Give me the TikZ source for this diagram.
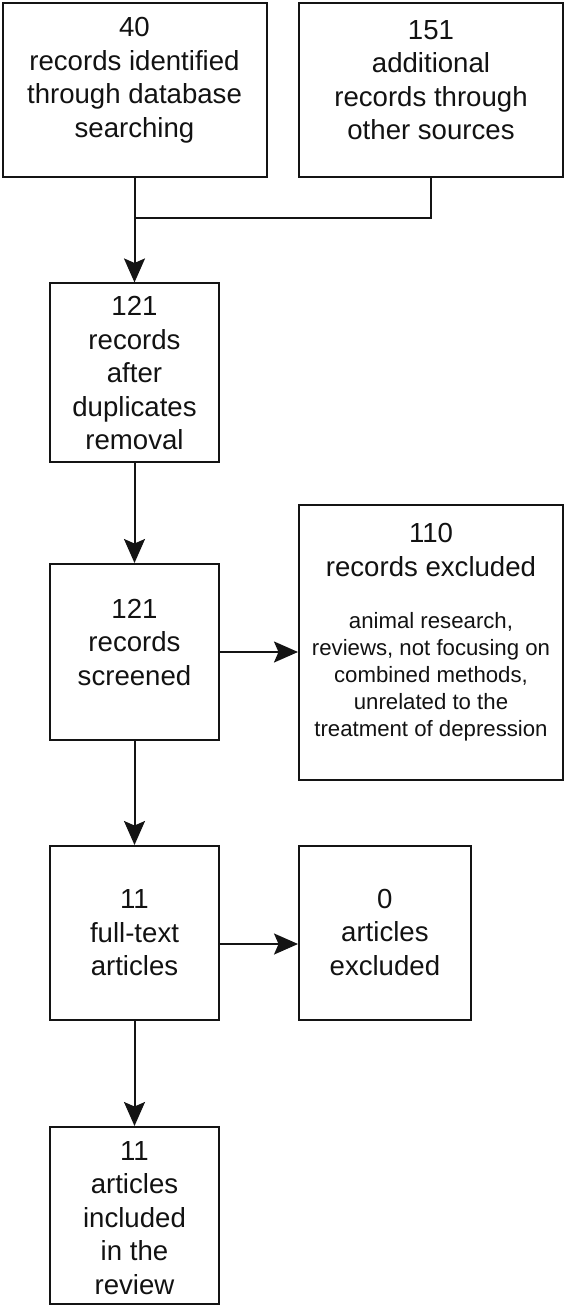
\documentclass[tikz,border=0pt]{standalone}
\usepackage{fontspec}
\setmainfont{Liberation Sans}
\usetikzlibrary{arrows.meta}
\begin{document}
\begin{tikzpicture}[x=1pt,y=-1pt,
  box/.style={draw=black!92, line width=2pt, rectangle, inner sep=0pt},
  big/.style={align=center, font=\fontsize{27.6}{33.5}\selectfont, inner sep=0pt, text=black!93},
  small/.style={align=center, font=\fontsize{22.2}{27}\selectfont, inner sep=0pt, text=black!93},
  conn/.style={line width=2pt, draw=black!92},
  arr/.style={conn, -{Stealth[length=24pt,width=21pt,inset=4.5pt]}}
]
\useasboundingbox (0,0) rectangle (570,1307);
% boxes
\node[box, minimum width=264pt, minimum height=174pt] (b1) at (134.5,90) {};
\node[box, minimum width=264pt, minimum height=174pt] (b2) at (431,90) {};
\node[box, minimum width=169.5pt, minimum height=178.5pt] (b3) at (134.5,372.7) {};
\node[box, minimum width=169.5pt, minimum height=176pt] (b4) at (134.5,652) {};
\node[box, minimum width=264pt, minimum height=275pt] (b5) at (431,642.5) {};
\node[box, minimum width=169.5pt, minimum height=174pt] (b6) at (134.5,933) {};
\node[box, minimum width=171.7pt, minimum height=174pt] (b7) at (384.9,933) {};
\node[box, minimum width=169.5pt, minimum height=177pt] (b8) at (134.5,1215.5) {};
% texts
\node[big] (t1) at (134.5,80) {40\\records identified\\through database\\searching};
\node[big] (t2) at (431,80) {151\\additional\\records through\\other sources};
\node[big] (t3) at (134.5,373) {121\\records\\after\\duplicates\\removal};
\node[big] (t4) at (134.5,642) {121\\records\\screened};
\node[big] (t5a) at (431,550) {110\\records excluded};
\node[small] (t5b) at (431,677) {animal research,\\reviews, not focusing on\\combined methods,\\unrelated to the\\treatment of depression};
\node[big] (t6) at (134.5,933) {11\\full-text\\articles};
\node[big] (t7) at (384.9,932) {0\\articles\\excluded};
\node[big] (t8) at (134.5,1218) {11\\articles\\included\\in the\\review};
% connectors
\coordinate (jn) at (134.5,218);
\draw[conn] (b2.south) |- (jn);
\draw[arr] (b1.south) -- (b3.north);
\draw[arr] (b3.south) -- (b4.north);
\draw[arr] (b4.east) -- (b4.east -| b5.west);
\draw[arr] (b4.south) -- (b6.north);
\draw[arr] (b6.east |- 0,944) -- (b7.west |- 0,944);
\draw[arr] (b6.south) -- (b8.north);
\end{tikzpicture}
\end{document}
